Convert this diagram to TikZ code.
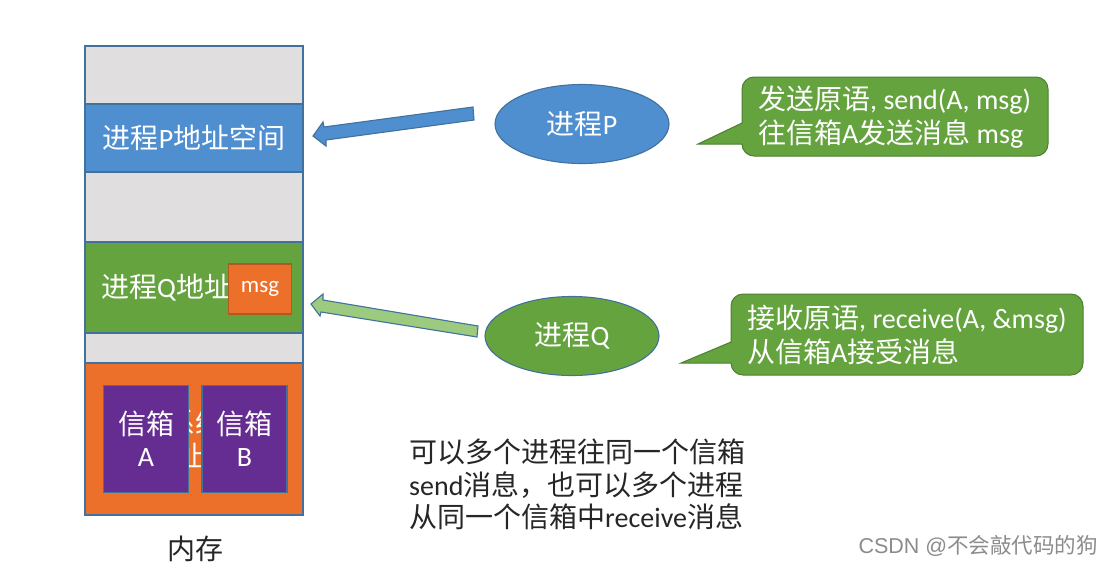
\documentclass[tikz,border=0pt]{standalone}
\usepackage{fontspec}
\setmainfont{Carlito}
\newfontfamily\cjk{Noto Sans CJK SC}
\newcommand{\zh}[1]{{\cjk #1}}
\definecolor{edgeblue}{HTML}{41719C}
\definecolor{bandgray}{HTML}{E0DEDE}
\definecolor{pblue}{HTML}{4F8FD0}
\definecolor{qgreen}{HTML}{65A33F}
\definecolor{kernorange}{HTML}{EC702A}
\definecolor{msgedge}{HTML}{AE5A21}
\definecolor{boxpurple}{HTML}{652C91}
\definecolor{lightgreen}{HTML}{9CCB80}
\definecolor{calloutedge}{HTML}{4E7F30}
\usetikzlibrary{shapes.geometric}
\tikzset{
  x=1pt,y=-1pt,
  bigtext/.style={inner sep=0pt,text=white,font=\fontsize{28}{32}\selectfont},
  memband/.style={draw=edgeblue,line width=1.2pt,inner sep=0pt,text=white,font=\fontsize{28}{32}\selectfont},
  mailbox/.style={memband,fill=boxpurple,minimum width=85pt,minimum height=107pt,align=center},
  procnode/.style={ellipse,draw=edgeblue,line width=1.1pt,minimum width=174pt,minimum height=79pt,inner sep=0pt,text=white,font=\fontsize{28}{32}\selectfont},
  bubble/.style={draw=calloutedge,fill=qgreen,line width=1pt},
  bubbletext/.style={anchor=west,align=left,inner sep=0pt,text=white,font=\fontsize{28}{33.5}\selectfont},
  blockarrow/.style={draw=edgeblue,line width=1.1pt,line join=miter},
  plaintext/.style={inner sep=0pt,text=black!85,font=\fontsize{28}{32.5}\selectfont}
}
\begin{document}
\begin{tikzpicture}
\useasboundingbox (0,0) rectangle (1101,566);
\fill[white] (0,0) rectangle (1101,566);
% memory column
\node[memband,fill=bandgray,minimum width=218pt,minimum height=469pt] (mem) at (194,280.5) {};
\node[memband,fill=pblue,minimum width=218pt,minimum height=68pt] (pspace) at (194,138) {};
\node[bigtext] (ptext) at (194,138) {\zh{进程}P\zh{地址空间}};
\node[memband,fill=qgreen,minimum width=218pt,minimum height=91pt] (qspace) at (194,287.5) {};
\node[bigtext,anchor=west] (qtext) at (101,287.5) {\zh{进程}Q\zh{地址}};
\node[draw=msgedge,fill=kernorange,line width=1.1pt,minimum width=63pt,minimum height=50pt,inner sep=0pt,text=white,font=\fontsize{23}{26}\selectfont] (msg) at (260,289) {msg};
\node[memband,fill=kernorange,minimum width=218pt,minimum height=152pt] (kern) at (194,439) {};
\node[bigtext] (ktexta) at (195,423) {\zh{系统}};
\node[bigtext,anchor=east] (ktextb) at (204,456) {\zh{地址}};
\node[mailbox] (boxa) at (146,439) {\zh{信箱}\\A};
\node[mailbox] (boxb) at (244.5,439) {\zh{信箱}\\B};
\node[plaintext] (memlabel) at (195,549) {\zh{内存}};
% processes
\node[procnode,fill=pblue] (procp) at (582,124) {\zh{进程}P};
\node[procnode,fill=qgreen] (procq) at (572,336) {\zh{进程}Q};
% block arrows
\filldraw[blockarrow,fill=pblue] (473,107) -- (324,127) -- (323,122) -- (313,136) -- (326,146) -- (326,140) -- (474,120) -- cycle;
\filldraw[blockarrow,fill=lightgreen] (478,326) -- (323,300) -- (323,294) -- (311,304) -- (320,316) -- (321,312) -- (477,337) -- cycle;
% callouts
\filldraw[bubble,rounded corners=12pt] (742,100) [sharp corners] -- (742,123) -- (698,144) -- (742,144) [rounded corners=12pt] -- (742,156) -- (1048,156) -- (1048,77) -- (742,77) -- cycle;
\node[bubbletext] (saysend) at (758,117) {\zh{发送原语}, send(A, msg)\\\zh{往信箱}A\zh{发送消息} msg};
\filldraw[bubble,rounded corners=12pt] (731,320) [sharp corners] -- (731,342) -- (681,363) -- (731,363) [rounded corners=12pt] -- (731,375) -- (1083,375) -- (1083,294) -- (731,294) -- cycle;
\node[bubbletext] (sayrecv) at (747,335) {\zh{接收原语}, receive(A, \&msg)\\\zh{从信箱}A\zh{接受消息}};
% note
\node[plaintext,anchor=west,align=left] (note) at (409,484.5) {\zh{可以多个进程往同一个信箱}\\send\zh{消息，也可以多个进程}\\\zh{从同一个信箱中}receive\zh{消息}};
% watermark
\node[inner sep=0pt,anchor=east,text=black!45,font=\fontsize{21.5}{25}\selectfont] (mark) at (1098,546) {{\fontspec{Liberation Sans}CSDN @}\zh{不会敲代码的狗}};
\end{tikzpicture}
\end{document}
